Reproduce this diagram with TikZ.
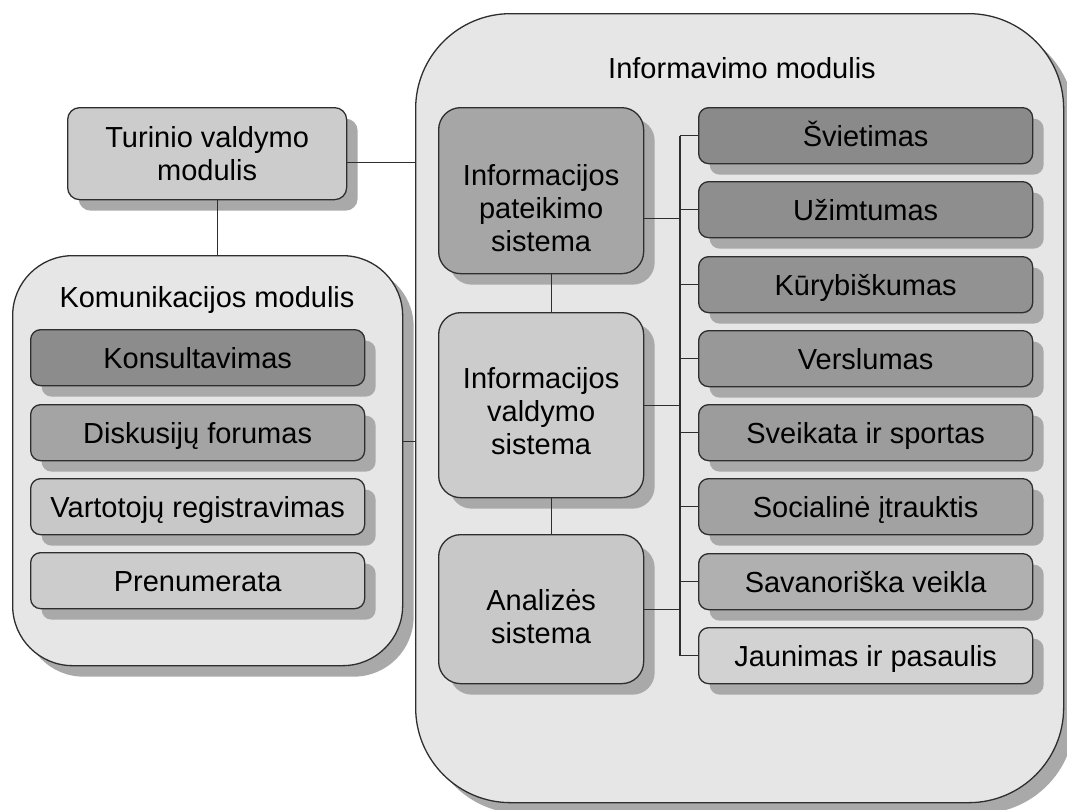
\documentclass[tikz,border=0pt]{standalone}
\usepackage{fontspec}
\setmainfont{Liberation Sans}
\usetikzlibrary{shadows,calc}
\definecolor{bigfill}{HTML}{E6E6E6}
\definecolor{shadowc}{HTML}{A9A9A9}
\definecolor{linec}{HTML}{2E2E2E}
\begin{document}
\begin{tikzpicture}[x=1pt,y=-1pt,
  txt/.style={font=\fontsize{29}{33}\selectfont, align=center, inner sep=0pt},
  bx/.style={draw=linec, line width=1.3pt, rectangle, inner sep=0pt, anchor=north west,
     drop shadow={shadow xshift=11pt, shadow yshift=-11pt, fill=shadowc, opacity=1}},
  itembox/.style={bx, rounded corners=10pt, minimum width=334pt, minimum height=56pt,
     font=\fontsize{29}{33}\selectfont, text height=20.8pt, text depth=0pt},
  conn/.style={draw=linec, line width=1.3pt}
]
\useasboundingbox (0,0) rectangle (1067,809);
\fill[white] (0,0) rectangle (1067,809);

% big containers
\node[bx, rounded corners=60pt, fill=bigfill, minimum width=390pt, minimum height=410pt] (kom) at (12,255) {};
\node[bx, rounded corners=95pt, fill=bigfill, minimum width=648pt, minimum height=789pt] (inf) at (415,13) {};
\node[txt, anchor=base] (komt) at (207,307) {Komunikacijos modulis};
\node[txt, anchor=base] (inft) at (742,78) {Informavimo modulis};

% content management module
\node[bx, rounded corners=12pt, fill=black!20, minimum width=279pt, minimum height=92pt] (tur) at (67,107) {};
\node[txt] (turt) at (tur.center) {Turinio valdymo\\modulis};

% communication items
\node[itembox, fill={rgb,255:red,140;green,140;blue,140}] (kon) at (30,329) {Konsultavimas};
\node[itembox, fill={rgb,255:red,164;green,164;blue,164}] (dis) at (30,404) {Diskusijų forumas};
\node[itembox, fill={rgb,255:red,200;green,200;blue,200}] (var) at (30,478) {Vartotojų registravimas};
\node[itembox, fill={rgb,255:red,204;green,204;blue,204}] (pre) at (30,552) {Prenumerata};

% systems
\node[bx, rounded corners=22pt, fill={rgb,255:red,166;green,166;blue,166}, minimum width=205pt, minimum height=166pt] (pat) at (438,107) {};
\node[txt] (patt) at ([yshift=-17pt]pat.center) {Informacijos\\pateikimo\\sistema};
\node[bx, rounded corners=22pt, fill={rgb,255:red,204;green,204;blue,204}, minimum width=205pt, minimum height=185pt] (val) at (438,312) {};
\node[txt] (valt) at ([yshift=-6pt]val.center) {Informacijos\\valdymo\\sistema};
\node[bx, rounded corners=22pt, fill={rgb,255:red,200;green,200;blue,200}, minimum width=205pt, minimum height=149pt] (ana) at (438,534) {};
\node[txt] (anat) at ([yshift=-7pt]ana.center) {Analizės\\sistema};

% topic items
\node[itembox, fill={rgb,255:red,138;green,138;blue,138}] (sv) at (698,107) {Švietimas};
\node[itembox, fill={rgb,255:red,142;green,142;blue,142}] (uz) at (698,181) {Užimtumas};
\node[itembox, fill={rgb,255:red,146;green,146;blue,146}] (ku) at (698,256) {Kūrybiškumas};
\node[itembox, fill={rgb,255:red,152;green,152;blue,152}] (ve) at (698,330) {Verslumas};
\node[itembox, fill={rgb,255:red,156;green,156;blue,156}] (se) at (698,404) {Sveikata ir sportas};
\node[itembox, fill={rgb,255:red,162;green,162;blue,162}] (so) at (698,478) {Socialinė įtrauktis};
\node[itembox, fill={rgb,255:red,176;green,176;blue,176}] (sa) at (698,553) {Savanoriška veikla};
\node[itembox, fill={rgb,255:red,210;green,210;blue,210}] (ja) at (698,627) {Jaunimas ir pasaulis};

% connectors
\coordinate (bus) at (680,0);
\draw[conn] ([xshift=10pt]tur.south) -- ([xshift=10pt]tur.south |- kom.north);
\draw[conn] ([yshift=-9pt]tur.east) -- ([yshift=-9pt]tur.east -| inf.west);
\draw[conn] ([yshift=19pt]kom.east) -- ([yshift=19pt]kom.east -| inf.west);
\draw[conn] ([xshift=10pt]pat.south) -- ([xshift=10pt]pat.south |- val.north);
\draw[conn] ([xshift=10pt]val.south) -- ([xshift=10pt]val.south |- ana.north);
\draw[conn] (sv.west -| bus) -- (ja.west -| bus);
\draw[conn] ([yshift=-28pt]pat.east) -- ([yshift=-28pt]pat.east -| bus);
\draw[conn] (val.east) -- (val.east -| bus);
\draw[conn] (ana.east) -- (ana.east -| bus);
\foreach \n in {sv,uz,ku,ve,se,so,sa,ja}
  \draw[conn] (\n.west -| bus) -- (\n.west);
\end{tikzpicture}
\end{document}
